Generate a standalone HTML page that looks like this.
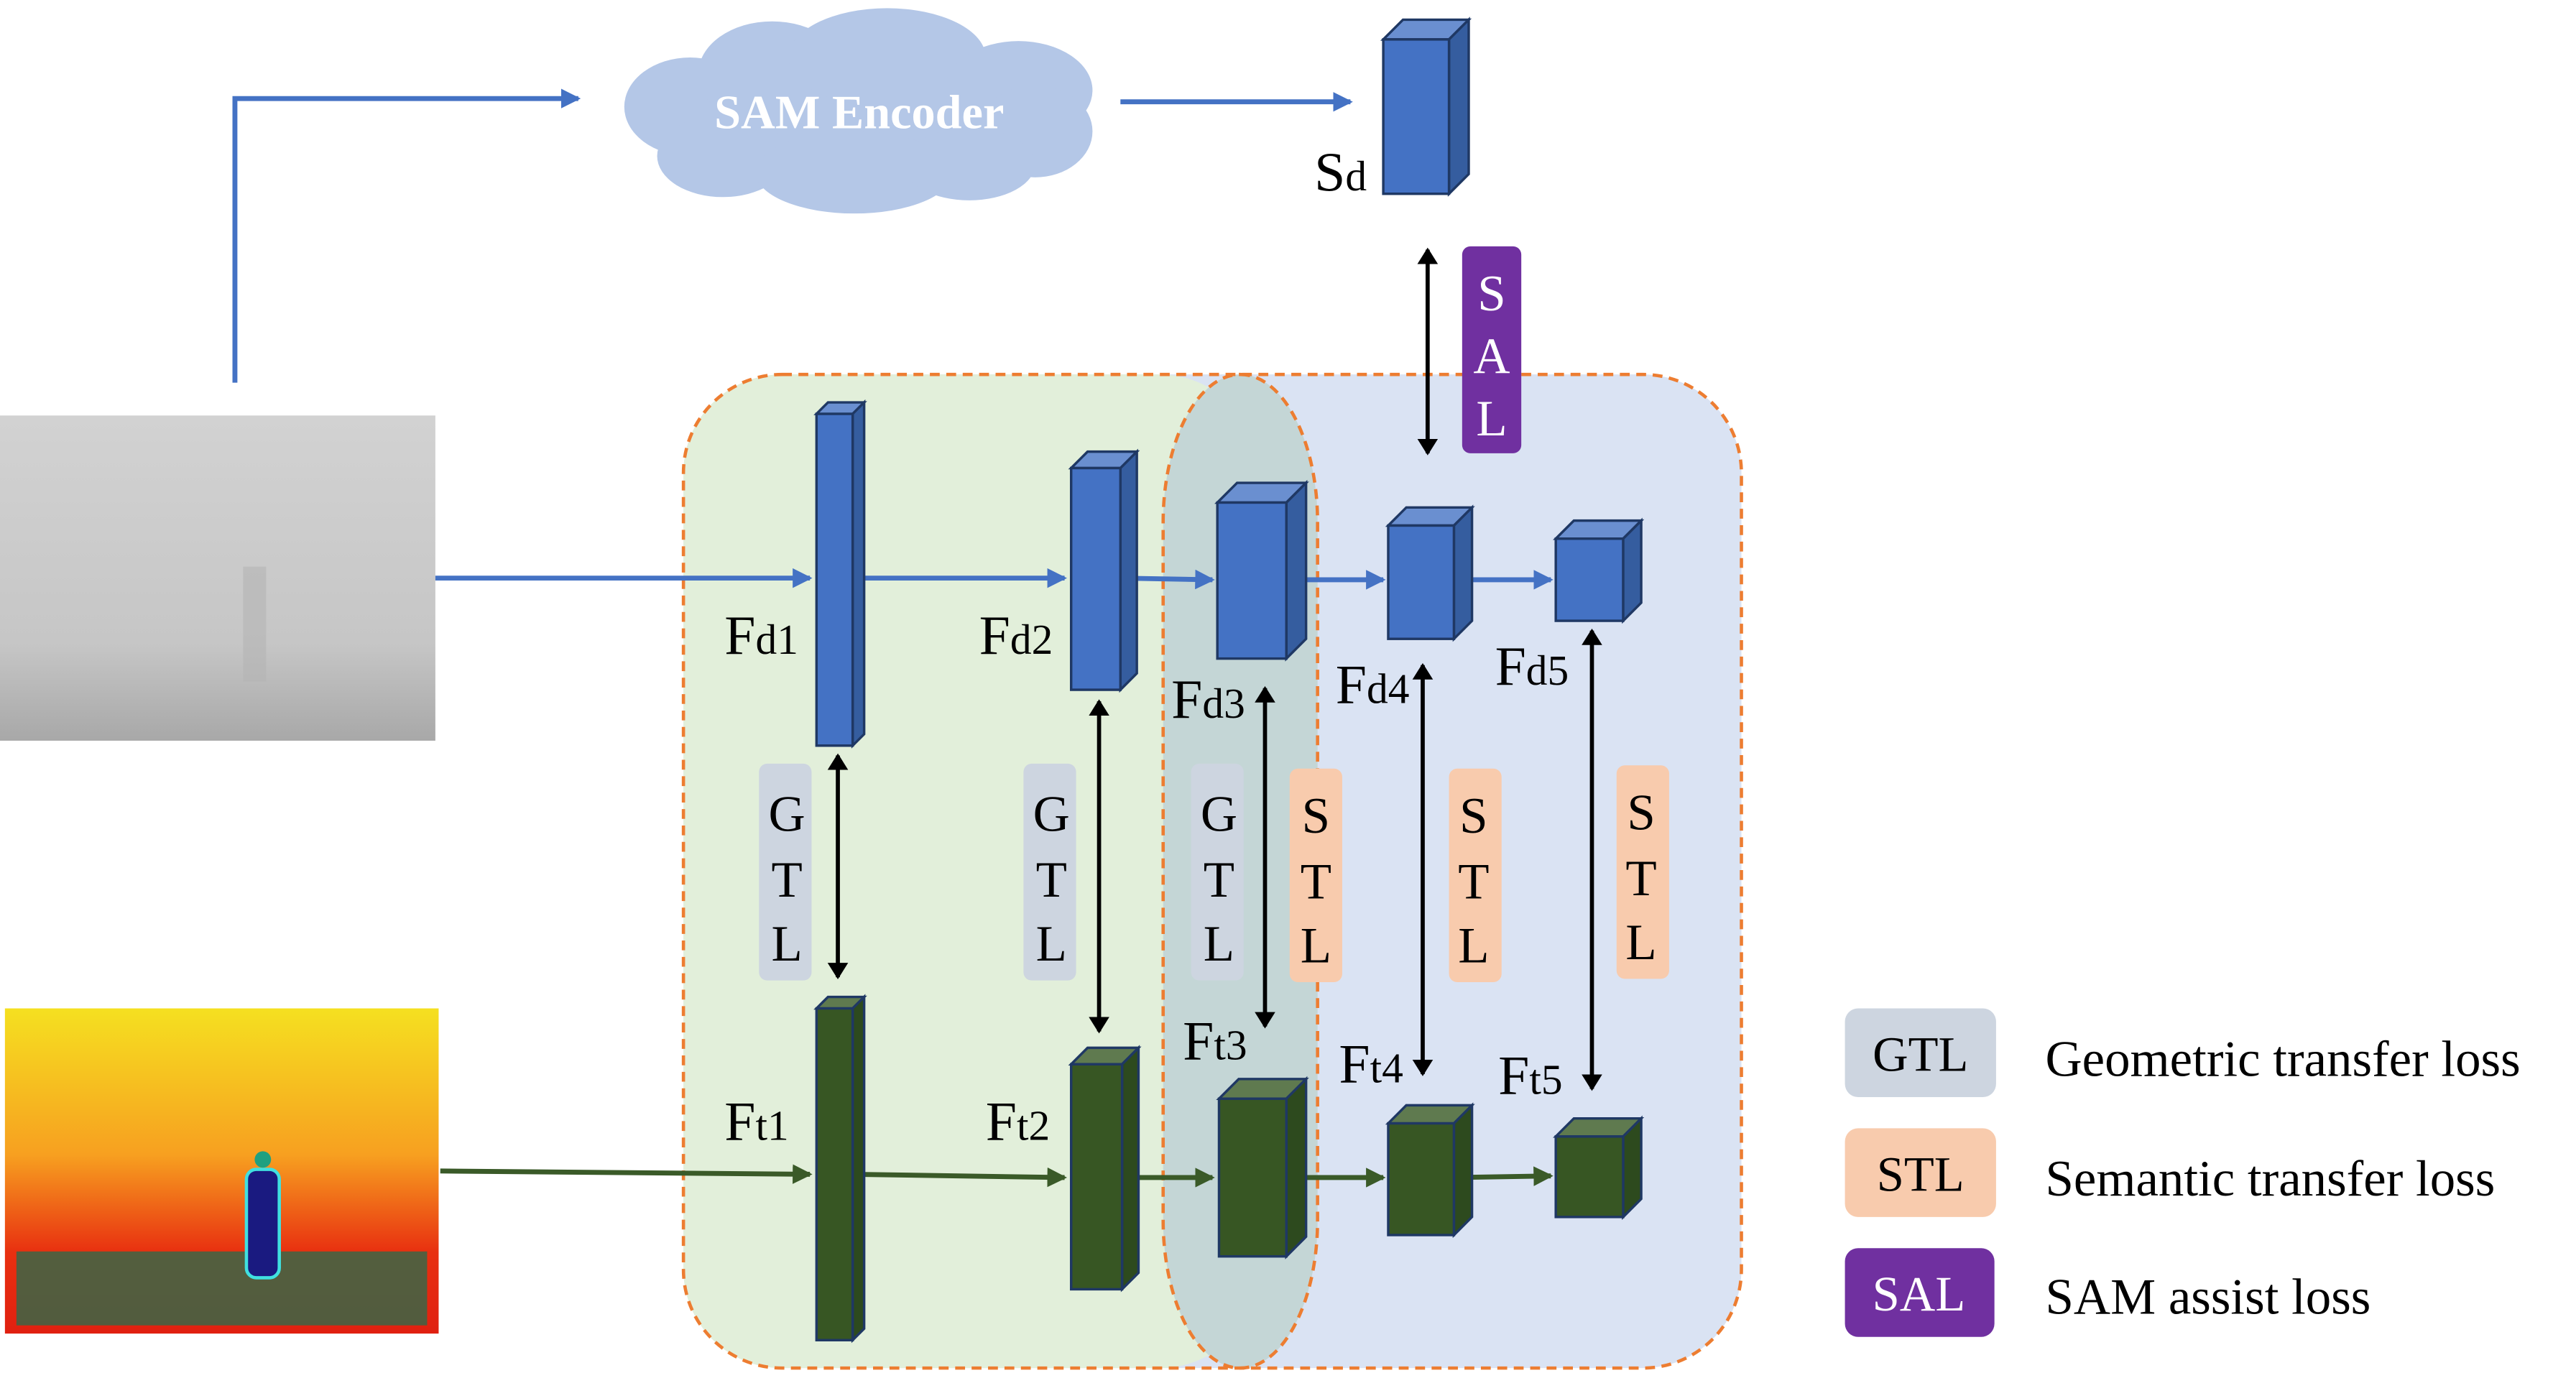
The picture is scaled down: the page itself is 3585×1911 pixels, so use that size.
<!DOCTYPE html>
<html><head><meta charset="utf-8"><style>html,body{margin:0;padding:0;background:#fff}svg{display:block}</style></head>
<body>
<svg width="3585" height="1911" viewBox="0 0 1568 836" preserveAspectRatio="none" xmlns="http://www.w3.org/2000/svg" font-family="Liberation Serif, serif">
<defs>
<linearGradient id="dg" x1="0" y1="0" x2="0" y2="1"><stop offset="0" stop-color="#d2d2d2"/><stop offset="0.7" stop-color="#c6c6c6"/><stop offset="1" stop-color="#a8a8a8"/></linearGradient>
<linearGradient id="tg" x1="0" y1="0" x2="0" y2="1"><stop offset="0" stop-color="#f5e020"/><stop offset="0.45" stop-color="#f7a020"/><stop offset="0.75" stop-color="#e83010"/><stop offset="1" stop-color="#e02010"/></linearGradient>
<marker id="ab" markerWidth="4" markerHeight="4" refX="3.5" refY="2" orient="auto" markerUnits="strokeWidth"><path d="M0,0 L4,2 L0,4 z" fill="#4472c4"/></marker>
<marker id="ag" markerWidth="4" markerHeight="4" refX="3.5" refY="2" orient="auto" markerUnits="strokeWidth"><path d="M0,0 L4,2 L0,4 z" fill="#3a5a28"/></marker>
<marker id="ak" markerWidth="4" markerHeight="5" refX="3.5" refY="2.5" orient="auto-start-reverse" markerUnits="strokeWidth"><path d="M0,0 L4,2.5 L0,5 z" fill="#000"/></marker>
</defs>
<rect x="416" y="228" width="644" height="605" rx="60" fill="#dae3f3"/>
<rect x="416" y="228" width="350" height="605" rx="60" fill="#e2efda"/>
<rect x="708" y="228" width="94" height="605" rx="47" ry="90" fill="#c4d6d6" stroke="#ed7d31" stroke-width="2" stroke-dasharray="6,4"/>
<rect x="416" y="228" width="644" height="605" rx="60" fill="none" stroke="#ed7d31" stroke-width="2" stroke-dasharray="6,4"/>
<rect x="0" y="253" width="265" height="198" fill="url(#dg)"/>
<rect x="148" y="345" width="14" height="70" fill="#b4b4b4" opacity="0.6"/>
<rect x="3" y="614" width="264" height="198" fill="url(#tg)"/>
<rect x="10" y="762" width="250" height="45" fill="#2e6a4a" opacity="0.8"/>
<rect x="150" y="712" width="20" height="66" rx="6" fill="#1a1a80" stroke="#40e0e0" stroke-width="2"/>
<circle cx="160" cy="706" r="5" fill="#20a080"/>
<polyline points="143,233 143,60 352,60" fill="none" stroke="#4472c4" stroke-width="3" marker-end="url(#ab)"/>
<g fill="#b4c7e7">
<ellipse cx="520" cy="70" rx="120" ry="40"/><ellipse cx="420" cy="65" rx="40" ry="30"/><ellipse cx="470" cy="45" rx="45" ry="32"/><ellipse cx="540" cy="35" rx="60" ry="30"/><ellipse cx="620" cy="55" rx="45" ry="30"/><ellipse cx="630" cy="80" rx="35" ry="28"/><ellipse cx="440" cy="95" rx="40" ry="25"/><ellipse cx="520" cy="105" rx="60" ry="25"/><ellipse cx="590" cy="100" rx="40" ry="22"/>
</g>
<text x="523" y="78" font-size="29" font-weight="bold" fill="#fff" text-anchor="middle">SAM Encoder</text>
<line x1="682" y1="62" x2="822" y2="62" stroke="#4472c4" stroke-width="3" marker-end="url(#ab)"/>
<g stroke="#4472c4" stroke-width="3" marker-end="url(#ab)">
<line x1="265" y1="352" x2="493" y2="352"/><line x1="519" y1="352" x2="648" y2="352"/><line x1="682" y1="352" x2="738" y2="353"/><line x1="783" y1="353" x2="842" y2="353"/><line x1="885" y1="353" x2="944" y2="353"/>
</g>
<g stroke="#3a5a28" stroke-width="3" marker-end="url(#ag)">
<line x1="268" y1="713" x2="493" y2="715"/><line x1="519" y1="715" x2="648" y2="717"/><line x1="683" y1="717" x2="738" y2="717"/><line x1="783" y1="717" x2="842" y2="717"/><line x1="885" y1="717" x2="944" y2="716"/>
</g>
<g stroke="#1f3864" stroke-width="1.5">
<polygon points="842,24 854,12 894,12 882,24" fill="#6a8fd0"/><polygon points="882,24 894,12 894,106 882,118" fill="#355d9f"/><rect x="842" y="24" width="40" height="94" fill="#4472c4"/>
<polygon points="497,252 504,245 526,245 519,252" fill="#6a8fd0"/><polygon points="519,252 526,245 526,447 519,454" fill="#355d9f"/><rect x="497" y="252" width="22" height="202" fill="#4472c4"/>
<polygon points="652,285 662,275 692,275 682,285" fill="#6a8fd0"/><polygon points="682,285 692,275 692,410 682,420" fill="#355d9f"/><rect x="652" y="285" width="30" height="135" fill="#4472c4"/>
<polygon points="741,306 753,294 795,294 783,306" fill="#6a8fd0"/><polygon points="783,306 795,294 795,389 783,401" fill="#355d9f"/><rect x="741" y="306" width="42" height="95" fill="#4472c4"/>
<polygon points="845,320 856,309 896,309 885,320" fill="#6a8fd0"/><polygon points="885,320 896,309 896,378 885,389" fill="#355d9f"/><rect x="845" y="320" width="40" height="69" fill="#4472c4"/>
<polygon points="947,328 958,317 999,317 988,328" fill="#6a8fd0"/><polygon points="988,328 999,317 999,367 988,378" fill="#355d9f"/><rect x="947" y="328" width="41" height="50" fill="#4472c4"/>
<polygon points="497,614 504,607 526,607 519,614" fill="#5f7a4f"/><polygon points="519,614 526,607 526,809 519,816" fill="#2d4a1e"/><rect x="497" y="614" width="22" height="202" fill="#375623"/>
<polygon points="652,648 662,638 693,638 683,648" fill="#5f7a4f"/><polygon points="683,648 693,638 693,775 683,785" fill="#2d4a1e"/><rect x="652" y="648" width="31" height="137" fill="#375623"/>
<polygon points="742,669 754,657 795,657 783,669" fill="#5f7a4f"/><polygon points="783,669 795,657 795,753 783,765" fill="#2d4a1e"/><rect x="742" y="669" width="41" height="96" fill="#375623"/>
<polygon points="845,684 856,673 896,673 885,684" fill="#5f7a4f"/><polygon points="885,684 896,673 896,741 885,752" fill="#2d4a1e"/><rect x="845" y="684" width="40" height="68" fill="#375623"/>
<polygon points="947,692 958,681 999,681 988,692" fill="#5f7a4f"/><polygon points="988,692 999,681 999,730 988,741" fill="#2d4a1e"/><rect x="947" y="692" width="41" height="49" fill="#375623"/>
</g>
<g fill="#cdd5e0"><rect x="462" y="465" width="32" height="132" rx="5"/><rect x="623" y="465" width="32" height="132" rx="5"/><rect x="725" y="465" width="32" height="132" rx="5"/></g>
<g fill="#f8cbad"><rect x="785" y="468" width="32" height="130" rx="5"/><rect x="882" y="468" width="32" height="130" rx="5"/><rect x="984" y="466" width="32" height="130" rx="5"/></g>
<rect x="890" y="150" width="36" height="126" rx="5" fill="#7030a0"/>
<g font-size="31" text-anchor="middle" fill="#000">
<text x="479" y="506">G</text><text x="479" y="546">T</text><text x="479" y="585">L</text>
<text x="640" y="506">G</text><text x="640" y="546">T</text><text x="640" y="585">L</text>
<text x="742" y="506">G</text><text x="742" y="546">T</text><text x="742" y="585">L</text>
<text x="801" y="507">S</text><text x="801" y="547">T</text><text x="801" y="586">L</text>
<text x="897" y="507">S</text><text x="897" y="547">T</text><text x="897" y="586">L</text>
<text x="999" y="505">S</text><text x="999" y="545">T</text><text x="999" y="584">L</text>
</g>
<g font-size="31" text-anchor="middle" fill="#fff"><text x="908" y="189">S</text><text x="908" y="227">A</text><text x="908" y="265">L</text></g>
<g stroke="#000" stroke-width="2.5" marker-end="url(#ak)" marker-start="url(#ak)">
<line x1="869" y1="152" x2="869" y2="276"/>
<line x1="510" y1="460" x2="510" y2="595"/>
<line x1="669" y1="427" x2="669" y2="628"/>
<line x1="770" y1="419" x2="770" y2="625"/>
<line x1="866" y1="405" x2="866" y2="654"/>
<line x1="969" y1="384" x2="969" y2="663"/>
</g>
<g font-size="34" fill="#000">
<text x="800" y="116">S<tspan font-size="26">d</tspan></text>
<text x="441" y="398">F<tspan font-size="26">d1</tspan></text>
<text x="596" y="398">F<tspan font-size="26">d2</tspan></text>
<text x="713" y="437">F<tspan font-size="26">d3</tspan></text>
<text x="813" y="428">F<tspan font-size="26">d4</tspan></text>
<text x="910" y="417">F<tspan font-size="26">d5</tspan></text>
<text x="441" y="694">F<tspan font-size="26">t1</tspan></text>
<text x="600" y="694">F<tspan font-size="26">t2</tspan></text>
<text x="720" y="645">F<tspan font-size="26">t3</tspan></text>
<text x="815" y="659">F<tspan font-size="26">t4</tspan></text>
<text x="912" y="666">F<tspan font-size="26">t5</tspan></text>
</g>
<rect x="1123" y="614" width="92" height="54" rx="8" fill="#cdd5e0"/>
<rect x="1123" y="687" width="92" height="54" rx="8" fill="#f8cbad"/>
<rect x="1123" y="760" width="91" height="54" rx="8" fill="#7030a0"/>
<g font-size="30" text-anchor="middle"><text x="1169" y="652" fill="#000">GTL</text><text x="1169" y="725" fill="#000">STL</text><text x="1168" y="798" fill="#fff">SAL</text></g>
<g font-size="31" fill="#000"><text x="1245" y="655">Geometric transfer loss</text><text x="1245" y="728">Semantic transfer loss</text><text x="1245" y="800">SAM assist loss</text></g>
</svg>
</body></html>
